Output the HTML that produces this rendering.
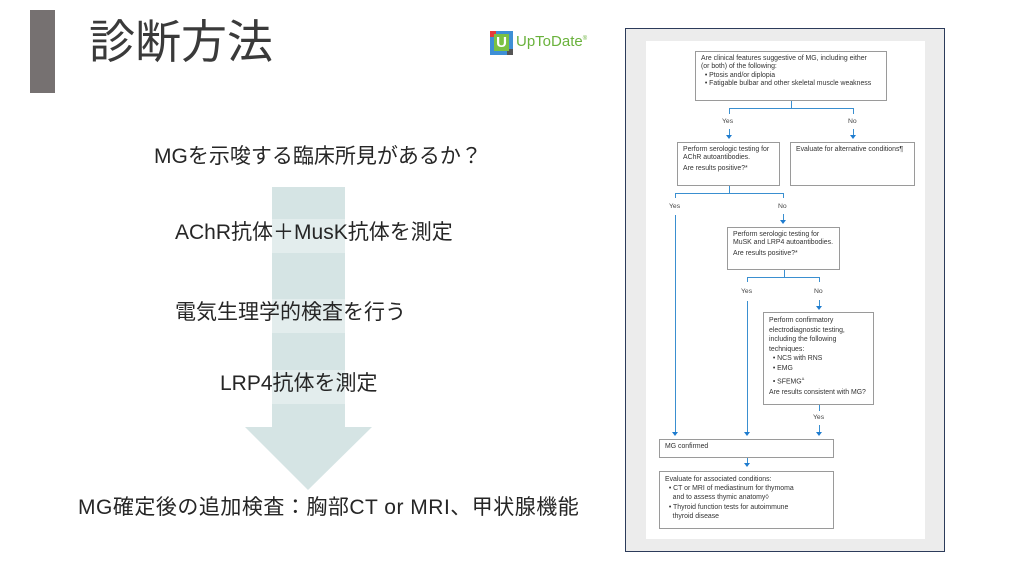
<!DOCTYPE html>
<html><head><meta charset="utf-8"><style>
*{margin:0;padding:0;box-sizing:border-box}
body{width:1024px;height:576px;background:#fff;position:relative;overflow:hidden;font-family:"Liberation Sans","Noto Sans CJK JP",sans-serif;color:#222}
.a{position:absolute}
.jp{font-size:21px;color:#262626;white-space:nowrap;line-height:1;letter-spacing:0}
.b{position:absolute;border:1px solid #9a9a9a;background:#fff;font-size:6.9px;line-height:8.4px;color:#333;padding:3px 5px;white-space:nowrap}
.l{position:absolute;background:#3a8fd0}
.t{position:absolute;font-size:6.8px;color:#444}
.ar{position:absolute;width:0;height:0;border-left:3px solid transparent;border-right:3px solid transparent;border-top:4px solid #1f7ccf}
</style></head><body>
<div class="a" style="left:30px;top:10px;width:25px;height:83px;background:#767171"></div>
<div class="a" style="left:89px;top:19px;font-size:46px;color:#3a3a3a;line-height:1">診断方法</div>
<div class="a" style="left:490px;top:31px;width:23px;height:24px;background:#3d8fd6"></div>
<div class="a" style="left:490px;top:31px;width:6px;height:6px;background:#e63a3a"></div>
<div class="a" style="left:507px;top:49px;width:6px;height:6px;background:#555"></div>
<div class="a" style="left:494px;top:34px;width:15px;height:17px;background:#7ac143;color:#fff;font-weight:bold;font-size:15px;text-align:center;line-height:17px">U</div>
<div class="a" style="left:516px;top:34px;font-size:15px;color:#6ab23c;line-height:1">UpToDate<sup style="font-size:6px">®</sup></div>

<div class="a" style="left:272px;top:187px;width:73px;height:241px;background:#d5e4e4"></div>
<div class="a" style="left:272px;top:219px;width:73px;height:34px;background:#e3eded"></div>
<div class="a" style="left:272px;top:299px;width:73px;height:34px;background:#e3eded"></div>
<div class="a" style="left:272px;top:370px;width:73px;height:34px;background:#e3eded"></div>
<svg class="a" style="left:0;top:0" width="1024" height="576"><polygon points="245,427 372,427 308,490" fill="#d5e4e4"/></svg>
<div class="a jp" style="left:154px;top:146px">MGを示唆する臨床所見があるか？</div>
<div class="a jp" style="left:175px;top:222px">AChR抗体＋MusK抗体を測定</div>
<div class="a jp" style="left:175px;top:302px">電気生理学的検査を行う</div>
<div class="a jp" style="left:220px;top:373px">LRP4抗体を測定</div>
<div class="a jp" style="left:78px;top:497px;letter-spacing:0.5px">MG確定後の追加検査：胸部CT or MRI、甲状腺機能</div>

<div class="a" style="left:625px;top:28px;width:320px;height:524px;background:#ececec;border:1px solid #2c3b5a"></div>
<div class="a" style="left:646px;top:41px;width:279px;height:498px;background:#fff"></div>

<div class="b" style="left:695px;top:51px;width:192px;height:50px">Are clinical features suggestive of MG, including either<br>(or both) of the following:<br>&nbsp;&nbsp;• Ptosis and/or diplopia<br>&nbsp;&nbsp;• Fatigable bulbar and other skeletal muscle weakness</div>
<div class="l" style="left:791px;top:101px;width:1px;height:7px"></div>
<div class="l" style="left:729px;top:108px;width:125px;height:1px"></div>
<div class="l" style="left:729px;top:108px;width:1px;height:6px"></div>
<div class="l" style="left:853px;top:108px;width:1px;height:6px"></div>
<div class="t" style="left:722px;top:118px">Yes</div>
<div class="t" style="left:848px;top:118px">No</div>
<div class="l" style="left:729px;top:129px;width:1px;height:6px"></div>
<div class="l" style="left:853px;top:129px;width:1px;height:6px"></div>
<div class="ar" style="left:726px;top:135px"></div>
<div class="ar" style="left:850px;top:135px"></div>

<div class="b" style="left:677px;top:142px;width:103px;height:44px">Perform serologic testing for<br>AChR autoantibodies.<br><span style="line-height:12px">Are results positive?*</span></div>
<div class="b" style="left:790px;top:142px;width:125px;height:44px">Evaluate for alternative conditions¶</div>

<div class="l" style="left:729px;top:186px;width:1px;height:7px"></div>
<div class="l" style="left:675px;top:193px;width:109px;height:1px"></div>
<div class="l" style="left:675px;top:193px;width:1px;height:5px"></div>
<div class="l" style="left:783px;top:193px;width:1px;height:5px"></div>
<div class="t" style="left:669px;top:203px">Yes</div>
<div class="t" style="left:778px;top:203px">No</div>
<div class="l" style="left:675px;top:215px;width:1px;height:217px"></div>
<div class="ar" style="left:672px;top:432px"></div>
<div class="l" style="left:783px;top:214px;width:1px;height:6px"></div>
<div class="ar" style="left:780px;top:220px"></div>

<div class="b" style="left:727px;top:227px;width:113px;height:43px">Perform serologic testing for<br>MuSK and LRP4 autoantibodies.<br><span style="line-height:12px">Are results positive?*</span></div>
<div class="l" style="left:784px;top:270px;width:1px;height:7px"></div>
<div class="l" style="left:747px;top:277px;width:73px;height:1px"></div>
<div class="l" style="left:747px;top:277px;width:1px;height:5px"></div>
<div class="l" style="left:819px;top:277px;width:1px;height:5px"></div>
<div class="t" style="left:741px;top:288px">Yes</div>
<div class="t" style="left:814px;top:288px">No</div>
<div class="l" style="left:747px;top:301px;width:1px;height:131px"></div>
<div class="ar" style="left:744px;top:432px"></div>
<div class="l" style="left:819px;top:300px;width:1px;height:6px"></div>
<div class="ar" style="left:816px;top:306px"></div>

<div class="b" style="left:763px;top:312px;width:111px;height:93px;line-height:9.6px">Perform confirmatory<br>electrodiagnostic testing,<br>including the following<br>techniques:<br>&nbsp;&nbsp;• NCS with RNS<br>&nbsp;&nbsp;• EMG<br>&nbsp;&nbsp;• SFEMG<sup style="font-size:4px">Δ</sup><br><span style="line-height:14px">Are results consistent with MG?</span></div>
<div class="l" style="left:819px;top:405px;width:1px;height:6px"></div>
<div class="t" style="left:813px;top:414px">Yes</div>
<div class="l" style="left:819px;top:425px;width:1px;height:7px"></div>
<div class="ar" style="left:816px;top:432px"></div>

<div class="b" style="left:659px;top:439px;width:175px;height:19px">MG confirmed</div>
<div class="l" style="left:747px;top:458px;width:1px;height:5px"></div>
<div class="ar" style="left:744px;top:463px"></div>
<div class="b" style="left:659px;top:471px;width:175px;height:58px;line-height:9.2px">Evaluate for associated conditions:<br>&nbsp;&nbsp;• CT or MRI of mediastinum for thymoma<br>&nbsp;&nbsp;&nbsp;&nbsp;and to assess thymic anatomy◊<br>&nbsp;&nbsp;• Thyroid function tests for autoimmune<br>&nbsp;&nbsp;&nbsp;&nbsp;thyroid disease</div>
</body></html>
